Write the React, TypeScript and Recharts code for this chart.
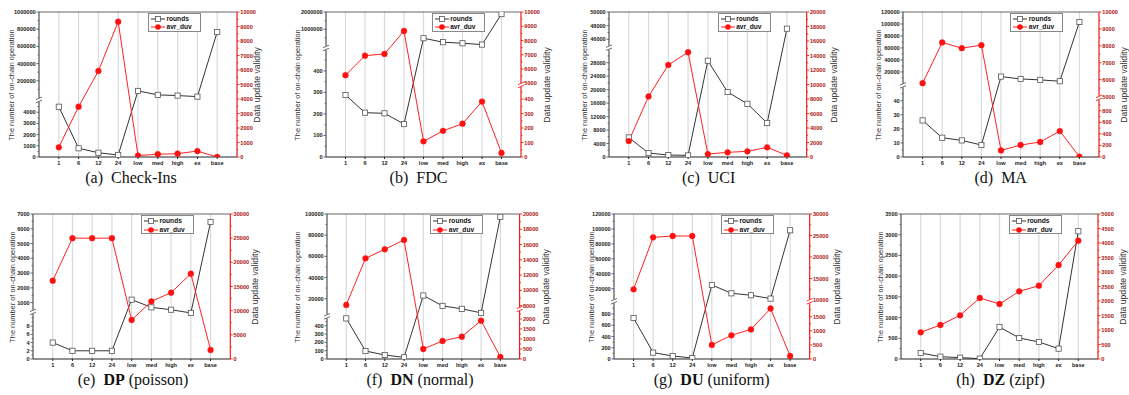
import React from 'react';
import { LineChart, Line, XAxis, YAxis, CartesianGrid, Legend, ReferenceLine } from 'recharts';

const categories = ['1', '6', '12', '24', 'low', 'med', 'high', 'ex', 'base'];
const seriesNames = ['rounds', 'avr_duv'];

const roundsA = [4490, 780, 380, 180, 82000, 36000, 28000, 16000, 767000];
const avrA = [670, 3470, 5930, 9330, 100, 190, 230, 410, 0];
const roundsB = [288, 206, 203, 153, 480000, 250000, 190000, 110000, 1880000];
const avrB = [5570, 6940, 7060, 8670, 108, 181, 230, 383, 28];
const roundsC = [5800, 1180, 590, 470, 28600, 19300, 15800, 10070, 47550];
const avrC = [2200, 8350, 12700, 14450, 410, 640, 780, 1330, 230];
const roundsD = [26, 13.7, 11.8, 8.5, 12200, 8300, 6700, 4500, 103300];
const avrD = [5790, 8200, 7860, 8040, 114, 207, 259, 448, 5];
const roundsE = [4, 2, 2, 2, 1200, 680, 520, 300, 6460];
const avrE = [16200, 25000, 25000, 25000, 8070, 11930, 13720, 17650, 1860];
const roundsF = [488, 96, 48, 20, 23000, 13200, 10400, 6600, 97300];
const avrF = [8090, 14200, 15380, 16600, 500, 900, 1117, 1917, 100];
const roundsG = [729, 113, 53, 18, 25000, 13800, 11200, 6700, 98200];
const avrG = [12480, 24570, 24880, 24880, 500, 840, 1050, 1790, 106];
const roundsH = [145, 56, 32, 8, 773, 507, 411, 250, 3084];
const avrH = [920, 1172, 1506, 2103, 1897, 2333, 2529, 3241, 4080];

const leftTicksA = [0, 1000, 2000, 3000, 4000, 200000, 400000, 600000, 800000, 1000000];
const rightTicksA = [0, 1000, 2000, 3000, 4000, 5000, 6000, 7000, 8000, 9000, 10000];
const leftTicksB = [0, 100, 200, 300, 400, 1000000, 2000000];
const rightTicksB = [0, 100, 200, 300, 400, 5000, 6000, 7000, 8000, 9000, 10000];
const leftTicksC = [0, 4000, 8000, 12000, 16000, 20000, 24000, 28000, 46000, 48000, 50000];
const rightTicksC = [0, 2000, 4000, 6000, 8000, 10000, 12000, 14000, 16000, 18000, 20000];
const leftTicksD = [0, 10, 20, 30, 40, 20000, 40000, 60000, 80000, 100000, 120000];
const rightTicksD = [0, 200, 400, 600, 800, 5000, 6000, 7000, 8000, 9000, 10000];
const leftTicksE = [0, 2, 4, 6, 8, 1000, 2000, 3000, 4000, 5000, 6000, 7000];
const rightTicksE = [0, 5000, 10000, 15000, 20000, 25000, 30000];
const leftTicksF = [0, 100, 200, 300, 400, 20000, 40000, 60000, 80000, 100000];
const rightTicksF = [0, 500, 1000, 1500, 2000, 8000, 10000, 12000, 14000, 16000, 18000, 20000];
const leftTicksG = [0, 200, 400, 600, 800, 20000, 40000, 60000, 80000, 100000, 120000];
const rightTicksG = [0, 500, 1000, 1500, 10000, 15000, 20000, 25000, 30000];
const leftTicksH = [0, 500, 1000, 1500, 2000, 2500, 3000, 3500];
const rightTicksH = [0, 500, 1000, 1500, 2000, 2500, 3000, 3500, 4000, 4500, 5000];

type Seg = { v0: number; v1: number; d0: number; d1: number };
type Scale = { segs: Seg[]; major: number[]; minor: number[]; brk?: number };

const seg = (v0: number, v1: number, d0: number, d1: number): Seg => ({ v0, v1, d0, d1 });

function mapVal(segs: Seg[], v: number) {
  const s = segs.length > 1 && v > segs[0].v1 ? segs[1] : segs[0];
  return s.d0 + ((v - s.v0) / (s.v1 - s.v0)) * (s.d1 - s.d0);
}

type TickEntry = { d: number; label: string; kind: 'major' | 'minor' | 'break' };

function buildTicks(sc: Scale): TickEntry[] {
  const entries: TickEntry[] = [];
  sc.major.forEach((v) => entries.push({ d: mapVal(sc.segs, v), label: String(v), kind: 'major' }));
  sc.segs.forEach((s, i) => {
    const step = sc.minor[i];
    for (let v = Math.ceil(s.v0 / step) * step; v <= s.v1 + 1e-9; v += step) {
      if (i > 0 && v <= sc.segs[0].v1) continue;
      if (sc.major.includes(v)) continue;
      const d = mapVal(sc.segs, v);
      if (sc.brk !== undefined) {
        if (i === 0 && d > sc.brk - 0.015) continue;
        if (i > 0 && d < sc.brk + 0.015) continue;
      }
      if (d < 0 || d > 1.0001) continue;
      entries.push({ d, label: '', kind: 'minor' });
    }
  });
  if (sc.brk !== undefined) entries.push({ d: sc.brk, label: '', kind: 'break' });
  return entries;
}

const FONT = '"Liberation Sans", Arial, Helvetica, sans-serif';
const SERIF = '"Liberation Serif", "Times New Roman", Times, serif';

type Panel = {
  id: string;
  rounds: number[];
  avr: number[];
  left: Scale;
  right: Scale;
  x: number;
  y: number;
  w: number;
  lt: number;
  rt: number;
  capX: number;
  capY: number;
  capTag: string;
  capBold: string;
  capRest: string;
};

const panels: Panel[] = [
  {
    id: 'a', rounds: roundsA, avr: avrA,
    left: { segs: [seg(0, 5000, 0, 0.386), seg(0, 1000000, 0.407, 1)], major: leftTicksA, minor: [500, 100000], brk: 0.394 },
    right: { segs: [seg(0, 10000, 0, 1)], major: rightTicksA, minor: [500] },
    x: 39, y: 12, w: 198, lt: -27, rt: 20, capX: 131, capY: 178, capTag: '(a)', capBold: '', capRest: 'Check-Ins',
  },
  {
    id: 'b', rounds: roundsB, avr: avrB,
    left: { segs: [seg(0, 500, 0, 0.742), seg(0, 2000000, 0.762, 1)], major: leftTicksB, minor: [50, 500000], brk: 0.752 },
    right: { segs: [seg(0, 500, 0, 0.499), seg(5000, 10000, 0.508, 1)], major: rightTicksB, minor: [50, 500], brk: 0.497 },
    x: 325.7, y: 12, w: 195, lt: -27.4, rt: 26, capX: 418.5, capY: 178, capTag: '(b)', capBold: '', capRest: 'FDC',
  },
  {
    id: 'c', rounds: roundsC, avr: avrC,
    left: { segs: [seg(0, 32000, 0, 0.743), seg(45000, 50000, 0.765, 1)], major: leftTicksC, minor: [2000, 1000], brk: 0.754 },
    right: { segs: [seg(0, 20000, 0, 1)], major: rightTicksC, minor: [1000] },
    x: 609, y: 12, w: 197.7, lt: -24, rt: 27.3, capX: 708.7, capY: 178, capTag: '(c)', capBold: '', capRest: 'UCI',
  },
  {
    id: 'd', rounds: roundsD, avr: avrD,
    left: { segs: [seg(0, 50, 0, 0.485), seg(0, 120000, 0.504, 1)], major: leftTicksD, minor: [5, 10000], brk: 0.494 },
    right: { segs: [seg(0, 1000, 0, 0.399), seg(5000, 10000, 0.417, 1)], major: rightTicksD, minor: [100, 500], brk: 0.408 },
    x: 903.3, y: 12, w: 196, lt: -24, rt: 25, capX: 1000.7, capY: 178, capTag: '(d)', capBold: '', capRest: 'MA',
  },
  {
    id: 'e', rounds: roundsE, avr: avrE,
    left: { segs: [seg(0, 10, 0, 0.283), seg(0, 7000, 0.287, 1)], major: leftTicksE, minor: [1, 500], brk: 0.325 },
    right: { segs: [seg(0, 30000, 0, 1)], major: rightTicksE, minor: [2500] },
    x: 32.7, y: 214.3, w: 197.3, lt: -19.4, rt: 25, capX: 133, capY: 380, capTag: '(e)', capBold: 'DP', capRest: '(poisson)',
  },
  {
    id: 'f', rounds: roundsF, avr: avrF,
    left: { segs: [seg(0, 500, 0, 0.287), seg(20000, 100000, 0.416, 1)], major: leftTicksF, minor: [50, 10000], brk: 0.294 },
    right: { segs: [seg(0, 2500, 0, 0.345), seg(8000, 20000, 0.368, 1)], major: rightTicksF, minor: [250, 1000], brk: 0.345 },
    x: 326.7, y: 214.3, w: 192.6, lt: -28.4, rt: 26.7, capX: 420, capY: 380, capTag: '(f)', capBold: 'DN', capRest: '(normal)',
  },
  {
    id: 'g', rounds: roundsG, avr: avrG,
    left: { segs: [seg(0, 1000, 0, 0.388), seg(20000, 120000, 0.485, 1)], major: leftTicksG, minor: [100, 10000], brk: 0.398 },
    right: { segs: [seg(0, 2000, 0, 0.389), seg(10000, 30000, 0.407, 1)], major: rightTicksG, minor: [250, 2500], brk: 0.398 },
    x: 614.3, y: 214.3, w: 195.7, lt: -22.6, rt: 26.7, capX: 711.7, capY: 380, capTag: '(g)', capBold: 'DU', capRest: '(uniform)',
  },
  {
    id: 'h', rounds: roundsH, avr: avrH,
    left: { segs: [seg(0, 3500, 0, 1)], major: leftTicksH, minor: [250] },
    right: { segs: [seg(0, 5000, 0, 1)], major: rightTicksH, minor: [250] },
    x: 900.7, y: 214.3, w: 197, lt: -20, rt: 25, capX: 1000.5, capY: 380, capTag: '(h)', capBold: 'DZ', capRest: '(zipf)',
  },
];

const PH = 145;
const AXW = 60;
const TOPM = 10;
const XAH = 20;

function renderYTick(p: any, entries: TickEntry[], side: 'left' | 'right', axisX: number, color: string, labelColor: string) {
  const { y, payload } = p;
  const e = entries.find((en) => Math.abs(en.d - payload.value) < 1e-7);
  if (!e) return <g />;
  const s = side === 'left' ? -1 : 1;
  if (e.kind === 'break') {
    return (
      <g>
        <rect x={axisX - 3} y={y - 2} width={6} height={4} fill="#fff" />
        <line x1={axisX - 3} y1={y - 0.3} x2={axisX + 3} y2={y - 2.8} stroke={color} strokeWidth={0.8} />
        <line x1={axisX - 3} y1={y + 2.8} x2={axisX + 3} y2={y + 0.3} stroke={color} strokeWidth={0.8} />
      </g>
    );
  }
  const len = e.kind === 'major' ? 2.5 : 1.4;
  return (
    <g>
      <line x1={axisX} x2={axisX + s * len} y1={y} y2={y} stroke={color} strokeWidth={0.8} />
      {e.kind === 'major' ? (
        <text
          x={axisX + s * 3.3}
          y={y}
          dy="0.36em"
          textAnchor={side === 'left' ? 'end' : 'start'}
          fontSize={5.6}
          fontWeight="bold"
          fill={labelColor}
          fontFamily={FONT}
        >
          {e.label}
        </text>
      ) : null}
    </g>
  );
}

function renderXTick(p: any) {
  return (
    <text x={p.x} y={p.y} dy="0.72em" textAnchor="middle" fontSize={5.6} fontWeight="bold" fill="#222" fontFamily={FONT}>
      {p.payload.value}
    </text>
  );
}

function SquareDot(p: any) {
  const { cx, cy, index } = p;
  if (cx == null || cy == null) return <g key={index} />;
  return <rect key={index} x={cx - 2.6} y={cy - 2.6} width={5.2} height={5.2} fill="#fff" stroke="#555" strokeWidth={0.8} />;
}

function CircleDot(p: any) {
  const { cx, cy, index } = p;
  if (cx == null || cy == null) return <g key={index} />;
  return <circle key={index} cx={cx} cy={cy} r={2.9} fill="#ff1010" stroke="#ff1010" strokeWidth={0.4} />;
}

function legendContent(props: any) {
  const items = [...(props.payload || [])].sort(
    (a: any, b: any) => seriesNames.indexOf(a.value) - seriesNames.indexOf(b.value)
  );
  return (
    <div
      style={{
        width: 53,
        height: 19,
        border: '0.8px solid #888',
        background: '#fff',
        boxSizing: 'border-box',
        padding: '1px 2px',
        fontFamily: FONT,
        fontSize: 6.6,
        fontWeight: 'bold',
        color: '#111',
        lineHeight: '8px',
      }}
    >
      {items.map((it: any) => (
        <div key={it.value} style={{ display: 'flex', alignItems: 'center', height: 8.3 }}>
          <svg width={14} height={8} style={{ display: 'block' }}>
            <line x1={0} y1={4} x2={14} y2={4} stroke={it.color} strokeWidth={1} />
            {it.value === 'rounds' ? (
              <rect x={4.5} y={1.5} width={5} height={5} fill="#fff" stroke="#555" strokeWidth={0.8} />
            ) : (
              <circle cx={7} cy={4} r={2.8} fill="#ff1010" />
            )}
          </svg>
          <span style={{ marginLeft: 1.5 }}>{it.value}</span>
        </div>
      ))}
    </div>
  );
}

function PanelChart({ p }: { p: Panel }) {
  const data = categories.map((c, i) => ({
    cat: c,
    r: mapVal(p.left.segs, p.rounds[i]),
    a: mapVal(p.right.segs, p.avr[i]),
  }));
  const le = buildTicks(p.left);
  const re = buildTicks(p.right);
  const leftX = AXW;
  const rightX = AXW + p.w;
  const pad = p.w / 10;
  return (
    <div style={{ position: 'absolute', left: p.x - AXW, top: p.y - TOPM }}>
      <LineChart
        width={p.w + 2 * AXW}
        height={PH + TOPM + XAH}
        data={data}
        margin={{ top: TOPM, right: 0, bottom: 0, left: 0 }}
      >
        <CartesianGrid yAxisId="l" horizontal={false} vertical stroke="#dadada" strokeWidth={1.2} />
        <XAxis
          dataKey="cat"
          height={XAH}
          padding={{ left: pad, right: pad }}
          interval={0}
          tickSize={2}
          tickMargin={2}
          stroke="#222"
          tick={renderXTick}
        />
        <YAxis
          yAxisId="l"
          orientation="left"
          width={AXW}
          type="number"
          domain={[0, 1]}
          allowDataOverflow
          ticks={le.map((e) => e.d)}
          interval={0}
          tickLine={false}
          stroke="#444"
          tick={(tp: any) => renderYTick(tp, le, 'left', leftX, '#444', '#222')}
        />
        <YAxis
          yAxisId="r"
          orientation="right"
          width={AXW}
          type="number"
          domain={[0, 1]}
          allowDataOverflow
          ticks={re.map((e) => e.d)}
          interval={0}
          tickLine={false}
          stroke="#ff0000"
          tick={(tp: any) => renderYTick(tp, re, 'right', rightX, '#ff0000', '#aa1111')}
        />
        <ReferenceLine yAxisId="l" y={1} stroke="#555" strokeWidth={0.9} />
        <Line
          yAxisId="l"
          dataKey="r"
          name="rounds"
          stroke="#333"
          strokeWidth={1}
          dot={SquareDot}
          activeDot={false}
          isAnimationActive={false}
        />
        <Line
          yAxisId="r"
          dataKey="a"
          name="avr_duv"
          stroke="#ff2020"
          strokeWidth={1}
          dot={CircleDot}
          activeDot={false}
          isAnimationActive={false}
        />
        <Legend
          layout="vertical"
          align="center"
          verticalAlign="middle"
          content={legendContent}
          wrapperStyle={{ left: AXW + p.w - 36 - 53, top: TOPM + 1, width: 53, height: 19 }}
        />
      </LineChart>
    </div>
  );
}

function Titles({ p }: { p: Panel }) {
  const cy = p.y + PH / 2;
  return (
    <>
      <div
        style={{
          position: 'absolute',
          left: p.x + p.lt - 100,
          top: cy - 6,
          width: 200,
          height: 12,
          lineHeight: '12px',
          textAlign: 'center',
          fontFamily: FONT,
          fontSize: 7.4,
          color: '#333',
          transform: 'rotate(-90deg)',
          whiteSpace: 'nowrap',
        }}
      >
        The number of on-chain operation
      </div>
      <div
        style={{
          position: 'absolute',
          left: p.x + p.w + p.rt - 100,
          top: cy - 6,
          width: 200,
          height: 12,
          lineHeight: '12px',
          textAlign: 'center',
          fontFamily: FONT,
          fontSize: 8.6,
          color: '#333',
          transform: 'rotate(-90deg)',
          whiteSpace: 'nowrap',
        }}
      >
        Data update validity
      </div>
      <div
        style={{
          position: 'absolute',
          left: p.capX - 150,
          top: p.capY - 10,
          width: 300,
          height: 20,
          lineHeight: '20px',
          textAlign: 'center',
          fontFamily: SERIF,
          fontSize: 16,
          color: '#111',
          whiteSpace: 'nowrap',
        }}
      >
        {p.capTag}
        {'\u2002'}
        {p.capBold ? <b>{p.capBold}</b> : null}
        {p.capBold ? ' ' : ''}
        {p.capRest}
      </div>
    </>
  );
}

export default function App() {
  return (
    <div style={{ position: 'absolute', left: 0, top: 0, width: 1129, height: 395, background: '#fff', overflow: 'hidden' }}>
      {panels.map((p) => (
        <PanelChart key={p.id} p={p} />
      ))}
      {panels.map((p) => (
        <Titles key={'t' + p.id} p={p} />
      ))}
    </div>
  );
}
